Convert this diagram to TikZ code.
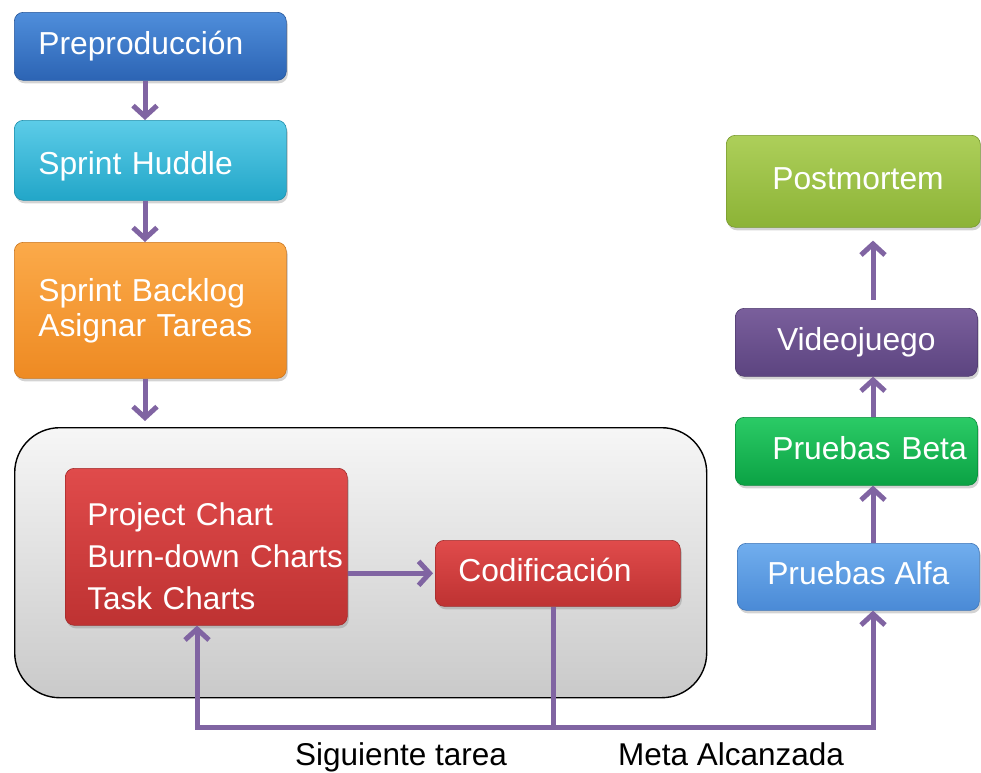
\documentclass[tikz,border=0pt]{standalone}
\usepackage{fontspec}
\setmainfont{Liberation Sans}
\usetikzlibrary{arrows.meta,shadows,calc}

% box fills: light top (T) and darker bottom (B)
\definecolor{preT}{HTML}{4F8EDB}\definecolor{preB}{HTML}{2C64B4}
\definecolor{hudT}{HTML}{5CCCE8}\definecolor{hudB}{HTML}{22A6C8}
\definecolor{bklT}{HTML}{FBAA4A}\definecolor{bklB}{HTML}{EE8A22}
\definecolor{redT}{HTML}{E04B4B}\definecolor{redB}{HTML}{BE3232}
\definecolor{pmT}{HTML}{ADCF5A}\definecolor{pmB}{HTML}{8CB336}
\definecolor{vidT}{HTML}{7A5F9C}\definecolor{vidB}{HTML}{5C4480}
\definecolor{betT}{HTML}{2BCB66}\definecolor{betB}{HTML}{0BA244}
\definecolor{alfT}{HTML}{71AEEE}\definecolor{alfB}{HTML}{4A8AD6}
\definecolor{flow}{HTML}{8064A2}

\begin{document}
\begin{tikzpicture}[x=1pt,y=-1pt,
  box/.style={rectangle, rounded corners=9pt, inner sep=0pt,
    top color=#1T, bottom color=#1B, draw=#1B!85!black, line width=0.6pt,
    drop shadow={opacity=0.35, shadow xshift=1.5pt, shadow yshift=-3pt},
    text=white, font=\fontsize{31.8}{36}\selectfont,
    text height=22pt, text depth=6pt, anchor=north west},
  container/.style={rectangle, rounded corners=45pt, draw=black, line width=1.4pt,
    top color=gray!7, bottom color=gray!42, anchor=north west},
  flowline/.style={draw=flow, line width=5pt},
  tip/.tip={Straight Barb[length=11pt,width=24pt]},
  arr/.style={flowline, -tip},
  caption/.style={font=\fontsize{31.5}{36}\selectfont, text=black, inner sep=0pt, anchor=base}]

\useasboundingbox (0,0) rectangle (981,772);

% left column
\node[box=pre, minimum width=272pt, minimum height=68pt, text width=224pt, align=left]
  (pre) at (14,12) {Preproducción};
\node[box=hud, minimum width=272pt, minimum height=80pt, text width=224pt, align=left,
  text height=28pt, text depth=0pt]
  (hud) at (14,120) {Sprint Huddle};
\node[box=bkl, minimum width=272pt, minimum height=136pt, text width=224pt, align=left,
  text height=, text depth=, font=\fontsize{31.8}{35}\selectfont]
  (bkl) at (14,242) {Sprint Backlog\\Asignar Tareas};

% sprint container with its two tasks
\node[container, minimum width=692pt, minimum height=270pt] (sprint) at (14,427) {};
\node[box=red, minimum width=282pt, minimum height=157pt, text width=282pt, align=left,
  text height=, text depth=, font=\fontsize{31.5}{42}\selectfont]
  (proj) at (65,468) {\hspace*{22pt}\rule{0pt}{41pt}Project Chart\\
    \hspace*{22pt}Burn-down Charts\\\hspace*{22pt}Task Charts};
\node[box=red, minimum width=245pt, minimum height=66pt, text width=199pt, align=left]
  (cod) at (435,540) {Codificación};

% right column
\node[box=pm, minimum width=254pt, minimum height=92pt, text width=254pt, align=left]
  (post) at (726,135) {\hspace*{46pt}Postmortem};
\node[box=vid, minimum width=242pt, minimum height=68pt, align=center]
  (vid) at (735,308) {Videojuego};
\node[box=bet, minimum width=242pt, minimum height=68pt, text width=242pt, align=left]
  (beta) at (735,417) {\hspace*{37pt}Pruebas Beta};
\node[box=alf, minimum width=242pt, minimum height=67pt, align=center]
  (alfa) at (737,543) {Pruebas Alfa};

% connector columns and feedback bus
\coordinate (colL) at (145,0);
\coordinate (colR) at (873,0);
\coordinate (stub) at (553,0);
\coordinate (busL) at (197,727);
\coordinate (busR) at (873,727);

\draw[arr] (pre.south -| colL) -- (hud.north -| colL);
\draw[arr] (hud.south -| colL) -- (bkl.north -| colL);
\draw[arr, shorten >=6pt] (bkl.south -| colL) -- (sprint.north -| colL);
\draw[arr, shorten >=2pt] (cod.west -| proj.east) -- (cod.west);

\draw[flowline] (cod.south -| stub) -- (busL -| stub);
\draw[flowline, line join=miter, tip-tip]
  (busL |- proj.south) -- (busL) -- (busR) -- (busR |- alfa.south);

\draw[arr] (alfa.north -| colR) -- (beta.south -| colR);
\draw[arr] (beta.north -| colR) -- (vid.south -| colR);
\draw[arr, shorten <=8pt, shorten >=13pt] (vid.north -| colR) -- (post.south -| colR);

% bus labels
\node[caption] (next) at (401,765) {Siguiente tarea};
\node[caption] (goal) at (731,765) {Meta Alcanzada};
\end{tikzpicture}
\end{document}
